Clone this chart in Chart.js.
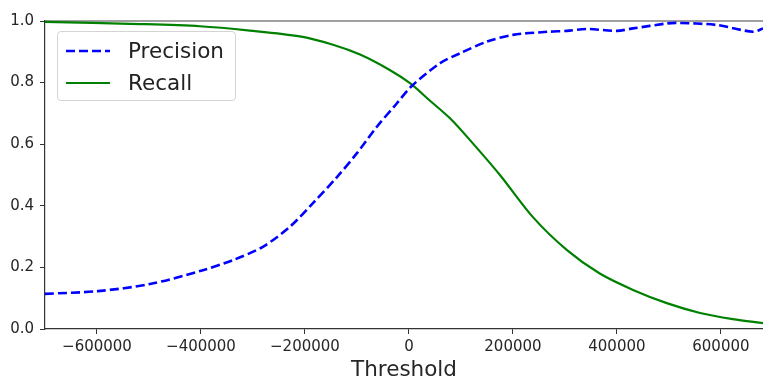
<!DOCTYPE html>
<html><head><meta charset="utf-8">
<script src="https://cdn.jsdelivr.net/npm/chart.js@4/dist/chart.umd.min.js"></script>
<style>
html,body{margin:0;padding:0;background:#fff;}
#wrap{position:relative;width:763px;height:379px;overflow:hidden;}
canvas{display:block;}
#legend{position:absolute;left:57px;top:31px;width:179px;height:70px;border:1px solid #d4d4d4;border-radius:4px;background:rgba(255,255,255,0.8);font-family:"DejaVu Sans";font-size:21.5px;color:#222;box-sizing:border-box;}
.row{position:absolute;left:0;height:30px;width:100%;}
.row svg{position:absolute;left:7px;top:0;}
.row span{position:absolute;left:70px;top:2px;line-height:26px;white-space:nowrap;}
</style></head>
<body>
<div id="wrap">
<canvas id="c" width="763" height="379"></canvas>
<div id="legend"></div>
</div>
<script>
const seriesLabels = ['Precision', 'Recall'];
const xTickValues = [-600000, -400000, -200000, 0, 200000, 400000, 600000];
const yTickValues = [0, 0.2, 0.4, 0.6, 0.8, 1.0];

const precisionX = [-700000,-598000,-498000,-398000,-338000,-281000,-229000,-185000,-138000,-100000,-62000,-23000,6000,60000,98000,150000,200000,267000,304000,342000,400000,431000,496000,515000,592000,662000,681000];
const precisionY = [0.114,0.123,0.146,0.19,0.224,0.267,0.332,0.408,0.494,0.571,0.656,0.733,0.79,0.863,0.895,0.933,0.955,0.965,0.968,0.974,0.968,0.976,0.992,0.994,0.987,0.965,0.976];

const recallX = [-700000,-517000,-402000,-306000,-210000,-146000,-94000,-37000,2000,40000,79000,117000,175000,238000,304000,367000,431000,496000,560000,623000,681000];
const recallY = [0.997,0.99,0.983,0.969,0.950,0.923,0.891,0.841,0.798,0.742,0.684,0.614,0.50,0.364,0.256,0.18,0.127,0.084,0.052,0.032,0.019];

const toPts = (xs, ys) => xs.map((x, i) => ({x: x, y: ys[i]}));

Chart.defaults.font.family = 'DejaVu Sans';
Chart.defaults.color = '#262626';

const topSpine = {
  id: 'topSpine',
  beforeDatasetsDraw(chart) {
    const a = chart.chartArea, ctx = chart.ctx;
    ctx.save();
    ctx.strokeStyle = '#808080';
    ctx.lineWidth = 1.5;
    ctx.beginPath();
    ctx.moveTo(a.left, a.top);
    ctx.lineTo(a.right, a.top);
    ctx.stroke();
    ctx.restore();
  }
};

const chart = new Chart(document.getElementById('c'), {
  type: 'line',
  data: {
    datasets: [
      {label: seriesLabels[0], data: toPts(precisionX, precisionY), borderColor: '#0000ff', borderWidth: 2.6, borderDash: [9, 4], pointRadius: 0, fill: false, tension: 0.3, clip: 4},
      {label: seriesLabels[1], data: toPts(recallX, recallY), borderColor: '#008000', borderWidth: 2.2, pointRadius: 0, fill: false, tension: 0.3, clip: 4}
    ]
  },
  options: {
    responsive: false,
    animation: false,
    layout: {padding: {top: 21, right: 0, left: 0, bottom: 0}},
    plugins: {legend: {display: false}, tooltip: {enabled: false}},
    scales: {
      x: {
        type: 'linear', min: -700000, max: 681000,
        afterBuildTicks: s => { s.ticks = xTickValues.map(v => ({value: v})); },
        afterFit: s => { s.height = 50; },
        ticks: {autoSkip: false, maxRotation: 0, padding: 4, font: {size: 15}, color: '#262626',
          callback: v => v < 0 ? '\u2212' + Math.abs(v) : String(v)},
        grid: {display: true, drawOnChartArea: false, drawTicks: true, tickLength: 5, tickColor: '#333'},
        border: {display: true, color: '#333', width: 1.2},
        title: {display: true, text: 'Threshold', font: {size: 21.5, lineHeight: 1}, color: '#262626', padding: {top: 0, bottom: -2}}
      },
      y: {
        min: 0, max: 1,
        afterBuildTicks: s => { s.ticks = yTickValues.map(v => ({value: v})); },
        afterFit: s => { s.width = 45; },
        ticks: {autoSkip: false, padding: 6, font: {size: 15}, color: '#262626', callback: v => Number(v).toFixed(1)},
        grid: {display: true, drawOnChartArea: false, drawTicks: true, tickLength: 5, tickColor: '#333'},
        border: {display: true, color: '#333', width: 1.2}
      }
    }
  },
  plugins: [topSpine]
});

// legend overlay built from the dataset definitions
const lg = document.getElementById('legend');
chart.data.datasets.forEach((ds, i) => {
  const row = document.createElement('div');
  row.className = 'row';
  row.style.top = (4 + i * 32) + 'px';
  const dash = ds.borderDash ? ds.borderDash.join(' ') : 'none';
  row.innerHTML = '<svg width="50" height="30"><line x1="1" y1="15" x2="45" y2="15" stroke="' + ds.borderColor +
    '" stroke-width="' + ds.borderWidth + '" stroke-dasharray="' + dash + '"/></svg><span>' + ds.label + '</span>';
  lg.appendChild(row);
});
</script>
</body></html>
